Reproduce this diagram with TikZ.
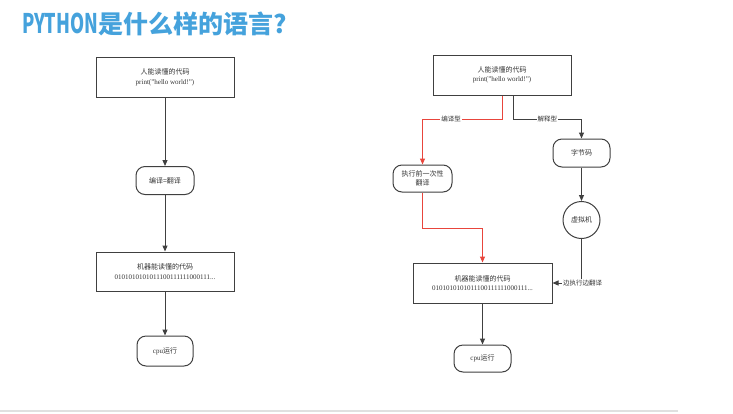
\documentclass[tikz,border=0pt]{standalone}
\usepackage{fontspec}
\setmainfont{Liberation Serif}
\newfontfamily\cjk{Noto Sans CJK SC}
\usetikzlibrary{arrows.meta}
\definecolor{ln}{HTML}{404040}
\definecolor{rd}{HTML}{E8453C}
\definecolor{tb}{HTML}{45A2DC}
\definecolor{tx}{HTML}{333333}
\tikzset{
  sqbox/.style={draw=ln, line width=1pt, minimum width=138pt, minimum height=40pt, inner sep=0pt, align=center, text=tx, font=\fontsize{7}{9.5}\selectfont},
  rbox/.style={draw=ln, line width=1pt, rounded corners=9pt, minimum width=58pt, minimum height=28pt, inner sep=0pt, align=center, text=tx, font=\fontsize{7}{9.5}\selectfont},
  circ/.style={circle, draw=ln, line width=1pt, minimum size=37pt, inner sep=0pt, text=tx, font=\fontsize{7}{9}\selectfont},
  conn/.style={draw=ln, line width=1pt, -{Triangle[length=6pt,width=5pt]}},
  rconn/.style={draw=rd, line width=1pt, -{Triangle[length=6pt,width=5pt]}},
  lbl/.style={fill=white, inner sep=1pt, text=tx, font=\cjk\fontsize{6.5}{7}\selectfont}
}
\begin{document}
\begin{tikzpicture}[x=1pt,y=-1pt]
\useasboundingbox (0,0) rectangle (733,413);
\fill[white] (0,0) rectangle (733,413);
% title
\node[anchor=west, inner sep=0pt, text=tb, font=\cjk\bfseries\fontsize{25}{28}\selectfont] (title) at (22,24) {\scalebox{0.72}[1.08]{PYTHON}是什么样的语言?};
% bottom rule
\draw[black!12, line width=2pt] (0,411) coordinate (r1) -- (678,411) coordinate (r2);
% left diagram
\node[sqbox] (L1) at (165,77.5) {{\cjk 人能读懂的代码}\\print("hello world!")};
\node[rbox] (L2) at (165,180.5) {\cjk 编译=翻译};
\node[sqbox, minimum height=39pt] (L3) at (165,271.5) {{\cjk 机器能读懂的代码}\\0101010101011100111111000111...};
\node[rbox, minimum width=56pt, minimum height=30pt] (L4) at (165,351) {cpu{\cjk 运行}};
\draw[conn] (L1.south) -- (L2.north);
\draw[conn] (L2.south) -- (L3.north);
\draw[conn] (L3.south) -- (L4.north);
% right diagram
\node[sqbox] (R1) at (502,75) {{\cjk 人能读懂的代码}\\print("hello world!")};
\node[rbox, minimum width=59pt, minimum height=27pt] (R2) at (422.5,178.5) {\cjk 执行前一次性\\\cjk 翻译};
\node[rbox, minimum width=57pt] (R3) at (581.5,153) {\cjk 字节码};
\node[circ] (R4) at (581.5,220) {\cjk 虚拟机};
\node[sqbox, minimum width=139pt] (R5) at (482.5,283) {{\cjk 机器能读懂的代码}\\0101010101011100111111000111...};
\node[rbox, minimum width=57pt, minimum height=27pt] (R6) at (482.5,358.5) {cpu{\cjk 运行}};
\draw[rconn] (R1.south) -- ++(0,24) -| node[lbl, pos=0.32] {编译型} (R2.north);
\draw[conn] ([xshift=11pt]R1.south) -- ++(0,24) -| node[lbl, pos=0.25] {解释型} (R3.north);
\draw[conn] (R3.south) -- (R4.north);
\draw[conn] (R4.south) |- node[lbl, pos=0.5, xshift=1pt] {边执行边翻译} (R5.east);
\draw[rconn] (R2.south) -- ++(0,36) -| (R5.north);
\draw[conn] (R5.south) -- (R6.north);
\end{tikzpicture}
\end{document}
